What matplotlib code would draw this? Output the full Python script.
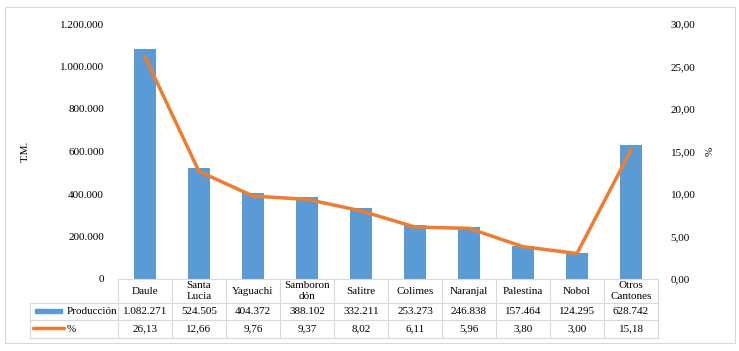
import matplotlib
matplotlib.use("Agg")
import matplotlib.pyplot as plt
from matplotlib.patches import Rectangle
from matplotlib.lines import Line2D

plt.rcParams['font.family'] = ['Liberation Serif', 'DejaVu Serif']
plt.rcParams['font.size'] = 8

cantones = ['Daule', 'Santa\nLucia', 'Yaguachi', 'Samboron\ndón', 'Salitre', 'Colimes',
            'Naranjal', 'Palestina', 'Nobol', 'Otros\nCantones']
produccion = [1082271, 524505, 404372, 388102, 332211, 253273, 246838, 157464, 124295, 628742]
porcentaje = [26.13, 12.66, 9.76, 9.37, 8.02, 6.11, 5.96, 3.80, 3.00, 15.18]

W, H = 739, 351
blue = '#5b9bd5'
orange = '#ed7d31'
grid = '#d9d9d9'

def fmt_miles(v):
    return f"{int(v):,}".replace(',', '.')

def fmt_dec(v):
    return f"{v:.2f}".replace('.', ',')

fig = plt.figure(figsize=(W / 100, H / 100), dpi=100)
# outer border
fig.add_artist(Rectangle((5 / W, 1 - 343 / H), 730 / W, 336 / H, transform=fig.transFigure,
                         fill=False, edgecolor=grid, lw=0.8))

x0, x1, ytop, ybot = 118, 658, 24, 279
ax = fig.add_axes([x0 / W, 1 - ybot / H, (x1 - x0) / W, (ybot - ytop) / H])
n = len(cantones)
xs = list(range(n))
ax.bar(xs, produccion, width=0.4, color=blue, zorder=2)
ax.set_xlim(-0.5, n - 0.5)
ax.set_ylim(0, 1200000)
ax.set_yticks(range(0, 1200001, 200000))
ax.set_yticklabels([fmt_miles(v) for v in range(0, 1200001, 200000)])
ax.tick_params(axis='y', length=0, pad=10)
ax.set_xticks([])
for s in ax.spines.values():
    s.set_visible(False)
ax.set_ylabel('T.M.')
ax.yaxis.set_label_coords((30 - x0) / (x1 - x0), 0.5)

ax2 = ax.twinx()
ax2.plot(xs, porcentaje, color=orange, lw=2.5, zorder=3)
ax2.set_ylim(0, 30)
ax2.set_yticks(range(0, 31, 5))
ax2.set_yticklabels([fmt_dec(v) for v in range(0, 31, 5)])
ax2.tick_params(axis='y', length=0, pad=9)
for s in ax2.spines.values():
    s.set_visible(False)
ax2.set_ylabel('%')
ax2.yaxis.set_label_coords((706 - x0) / (x1 - x0), 0.5)

# data table below the axes, in pixel coordinates
def fx(px):
    return px / W

def fy(py):
    return 1 - py / H

cw = (x1 - x0) / n
r0, r1, r2, r3 = 279, 303, 320, 338
lk = dict(transform=fig.transFigure, color=grid, lw=0.8)
fig.add_artist(Line2D([fx(x0), fx(x1)], [fy(r0), fy(r0)], **lk))
for r in (r1, r2, r3):
    fig.add_artist(Line2D([fx(30), fx(x1)], [fy(r), fy(r)], **lk))
fig.add_artist(Line2D([fx(30), fx(30)], [fy(r1), fy(r3)], **lk))
for i in range(n + 1):
    xp = x0 + i * cw
    fig.add_artist(Line2D([fx(xp), fx(xp)], [fy(r0), fy(r3)], **lk))

for i, c in enumerate(cantones):
    cx = x0 + (i + 0.5) * cw
    fig.text(fx(cx), fy((r0 + r1) / 2), c, ha='center', va='center', linespacing=1.35)
    fig.text(fx(cx), fy((r1 + r2) / 2), fmt_miles(produccion[i]), ha='center', va='center')
    fig.text(fx(cx), fy((r2 + r3) / 2), fmt_dec(porcentaje[i]), ha='center', va='center')

fig.add_artist(Rectangle((fx(35), fy(313)), 27 / W, 4 / H, transform=fig.transFigure,
                         color=blue))
fig.add_artist(Line2D([fx(33), fx(64)], [fy(328), fy(328)], transform=fig.transFigure,
                      color=orange, lw=2.5, solid_capstyle='round'))
fig.text(fx(67), fy((r1 + r2) / 2), 'Producción', ha='left', va='center')
fig.text(fx(67), fy((r2 + r3) / 2), '%', ha='left', va='center')

fig.savefig('out.png', dpi=100)
